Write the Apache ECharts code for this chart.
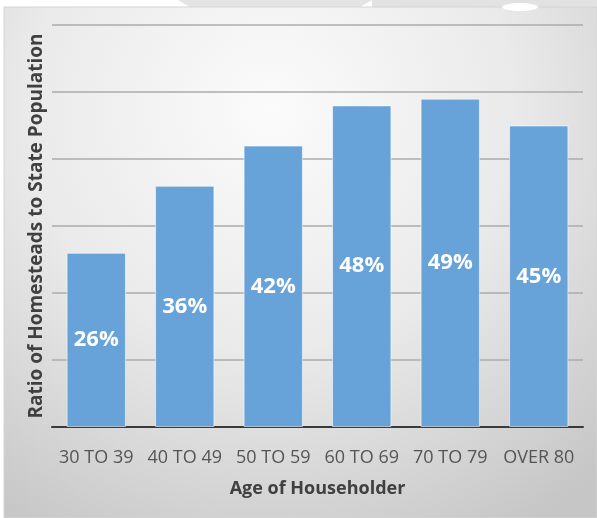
<!DOCTYPE html>
<html>
<head>
<meta charset="utf-8">
<script src="https://cdn.jsdelivr.net/npm/echarts@6/dist/echarts.min.js"></script>
<style>
  html, body { margin: 0; padding: 0; background: #ffffff; }
  #chart { width: 597px; height: 518px; }
</style>
</head>
<body>
<div id="chart"></div>
<script>
// Share of homesteads relative to state population, by householder age
const categories = ['30 TO 39', '40 TO 49', '50 TO 59', '60 TO 69', '70 TO 79', 'OVER 80'];
const ratios = [26, 36, 42, 48, 49, 45];
const yMin = 0;
const yMax = 60;
const yStep = 10;

const chart = echarts.init(document.getElementById('chart'), null, { renderer: 'canvas' });

const font = '"Open Sans", "Noto Sans", sans-serif';

chart.setOption({
  backgroundColor: '#ffffff',
  graphic: [
    // soft grey panel behind the chart
    {
      type: 'rect', z: -10, silent: true,
      shape: { x: 4, y: 7, width: 593, height: 511 },
      style: {
        fill: {
          type: 'radial', x: 0.45, y: 0.2, r: 0.95,
          colorStops: [
            { offset: 0, color: '#fbfbfb' },
            { offset: 0.5, color: '#eaeaea' },
            { offset: 1, color: '#c6c6c6' }
          ]
        },
        stroke: '#d4d4d4', lineWidth: 1
      }
    },
    // shading along the top edge
    {
      type: 'polygon', z: -11, silent: true,
      shape: { points: [[178, 0], [372, 0], [360, 7], [190, 7]] },
      style: { fill: '#e4e4e4' }
    },
    {
      type: 'rect', z: -11, silent: true,
      shape: { x: 372, y: 0, width: 225, height: 7 },
      style: { fill: '#e2e2e2' }
    },
    {
      type: 'ellipse', z: -10, silent: true,
      shape: { cx: 520, cy: 7, rx: 18, ry: 4 },
      style: { fill: '#ffffff' }
    }
  ],
  grid: { left: 52, right: 14, top: 25, bottom: 91, containLabel: false },
  xAxis: {
    type: 'category',
    data: categories,
    name: 'Age of Householder',
    nameLocation: 'middle',
    nameGap: 53,
    nameTextStyle: { fontFamily: font, fontSize: 18, fontWeight: 'bold', color: '#404040' },
    axisLine: { show: true, lineStyle: { color: '#3a3a3a', width: 2 } },
    axisTick: { show: false },
    axisLabel: { interval: 0, fontFamily: font, fontSize: 18, color: '#555555', margin: 22 }
  },
  yAxis: {
    type: 'value',
    min: yMin,
    max: yMax,
    interval: yStep,
    name: 'Ratio of Homesteads to State Population',
    nameLocation: 'middle',
    nameGap: 6,
    nameTextStyle: { fontFamily: font, fontSize: 19, fontWeight: 'bold', color: '#404040' },
    axisLine: { show: false },
    axisTick: { show: false },
    axisLabel: { show: false },
    splitLine: { lineStyle: { color: '#ababab', width: 1.5 } }
  },
  series: [{
    type: 'bar',
    data: ratios,
    barCategoryGap: '33%',
    itemStyle: { color: '#67a2d8', borderColor: 'rgba(255,255,255,0.55)', borderWidth: 1 },
    label: {
      show: true,
      position: 'inside',
      formatter: '{c}%',
      fontFamily: font,
      fontSize: 22,
      fontWeight: 'bold',
      color: '#ffffff'
    }
  }]
});
</script>
</body>
</html>
